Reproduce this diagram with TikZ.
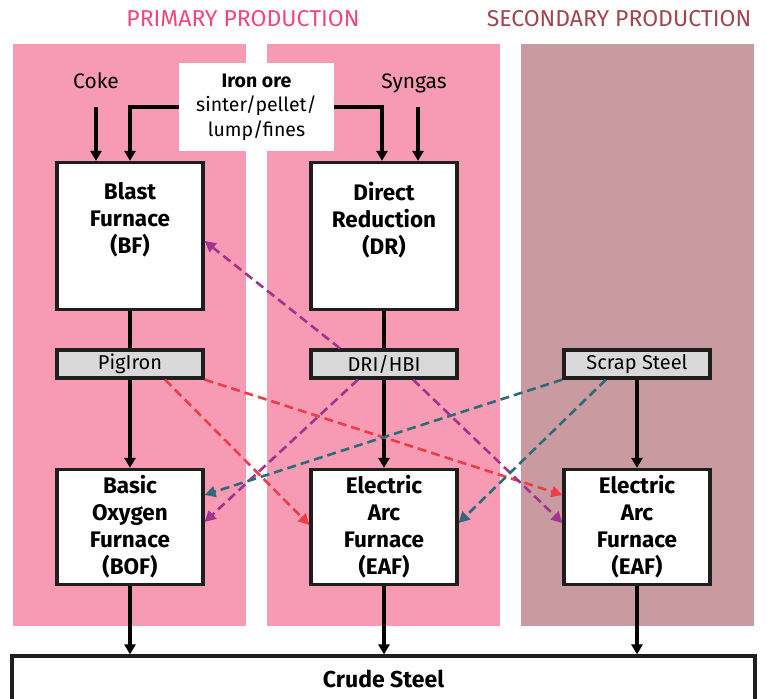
\documentclass[tikz,border=0pt]{standalone}
\usepackage{fontspec}
\setmainfont{Fira Sans}
\usetikzlibrary{arrows.meta,calc}
\definecolor{pinkpanel}{HTML}{F69BB3}
\definecolor{brownpanel}{HTML}{C99BA0}
\definecolor{primtitle}{HTML}{F0487A}
\definecolor{sectitle}{HTML}{A2454F}
\definecolor{graybox}{HTML}{D9D9D9}
\definecolor{boxline}{HTML}{1E1E1E}
\definecolor{redflow}{HTML}{F03C46}
\definecolor{purpleflow}{HTML}{A2348F}
\definecolor{tealflow}{HTML}{2E6B78}
\tikzset{
  bigbox/.style={draw=boxline,line width=3.2bp,fill=white,minimum width=146bp,align=center,inner sep=0pt,font=\fontsize{22.5bp}{27bp}\selectfont\bfseries},
  smallbox/.style={draw=boxline,line width=3.2bp,fill=graybox,minimum width=146bp,minimum height=28bp,inner sep=0pt,font=\fontsize{20bp}{22bp}\selectfont},
  lbl/.style={font=\fontsize{21bp}{25bp}\selectfont,align=center,inner sep=0pt,anchor=base},
  flow/.style={line width=3.2bp,-{Triangle[length=10bp,width=11bp]}},
  plain/.style={line width=3.2bp},
  dflow/.style={line width=2.6bp,dash pattern=on 9bp off 5bp,-{Triangle[length=11bp,width=11bp]}},
}
\begin{document}
\begin{tikzpicture}[x=1bp,y=-1bp]
\useasboundingbox (0,0) rectangle (767,699);
% panels
\fill[pinkpanel] (13,44) rectangle (246,626);
\fill[pinkpanel] (267,44) rectangle (500,626);
\fill[brownpanel] (521,44) rectangle (754,626);
% titles
\node[text=primtitle,font=\fontsize{23bp}{26bp}\selectfont,inner sep=0pt] (ttlprim) at (243,19) {PRIMARY PRODUCTION};
\node[text=sectitle,font=\fontsize{23bp}{26bp}\selectfont,inner sep=0pt] (ttlsec) at (619,19) {SECONDARY PRODUCTION};
% inputs
\node[fill=white,minimum width=155bp,minimum height=87bp,inner sep=0pt,align=center,font=\fontsize{19.5bp}{24.5bp}\selectfont] (ore) at (256.5,107) {\textbf{Iron ore}\\sinter/pellet/\\lump/fines};
\node[lbl] (coke) at (96,89) {Coke};
\node[lbl] (syngas) at (414,89) {Syngas};
% main boxes
\node[bigbox,minimum height=147bp] (bf) at (130,236) {Blast\\Furnace\\(BF)\\\strut};
\node[bigbox,minimum height=147bp] (dr) at (384,236) {Direct\\Reduction\\(DR)\\\strut};
\node[smallbox] (pig) at (130,364) {PigIron};
\node[smallbox] (dri) at (384,364) {DRI/HBI};
\node[smallbox] (scrap) at (637,364) {Scrap Steel};
\node[bigbox,minimum height=115bp] (bof) at (130,527) {Basic\\Oxygen\\Furnace\\(BOF)};
\node[bigbox,minimum height=115bp] (eafa) at (384,527) {Electric\\Arc\\Furnace\\(EAF)};
\node[bigbox,minimum height=115bp] (eafb) at (637,527) {Electric\\Arc\\Furnace\\(EAF)};
\node[bigbox,minimum width=743bp,minimum height=46bp,font=\fontsize{23bp}{26bp}\selectfont\bfseries] (crude) at (383.5,679) {Crude Steel};
% input arrows
\coordinate (cokestart) at (96,107);
\coordinate (synstart) at (418,107);
\draw[flow] (cokestart) -- (cokestart |- bf.north);
\draw[flow] (synstart) -- (synstart |- bf.north);
\draw[flow] (ore.west |- cokestart) -| (bf.north);
\draw[flow] (ore.east |- cokestart) -| ([xshift=-2bp]dr.north);
% vertical flows
\draw[plain] (bf.south) -- (pig.north);
\draw[plain] (dr.south) -- (dri.north);
\draw[flow] (pig.south) -- (bof.north);
\draw[flow] (dri.south) -- (eafa.north);
\draw[flow] (scrap.south) -- (eafb.north);
\draw[flow] (bof.south) -- (bof.south |- crude.north);
\draw[flow] (eafa.south) -- (eafa.south |- crude.north);
\draw[flow] (eafb.south) -- (eafb.south |- crude.north);
% dashed cross flows
\draw[dflow,redflow] ([xshift=35bp]pig.south) -- ([yshift=2bp]eafa.west);
\draw[dflow,redflow] (pig.south east) -- ([yshift=32bp]eafb.west);
\draw[dflow,purpleflow] ([xshift=-44bp]dri.north) -- ([yshift=-5bp]bf.east);
\draw[dflow,purpleflow] ([xshift=-26bp]dri.south) -- ([yshift=5bp]bof.east);
\draw[dflow,purpleflow] ([xshift=29bp]dri.south) -- ([yshift=4bp]eafb.west);
\draw[dflow,tealflow] (scrap.south west) -- ([yshift=32bp]bof.east);
\draw[dflow,tealflow] ([xshift=-31bp]scrap.south) -- ([yshift=4bp]eafa.east);
\end{tikzpicture}
\end{document}
